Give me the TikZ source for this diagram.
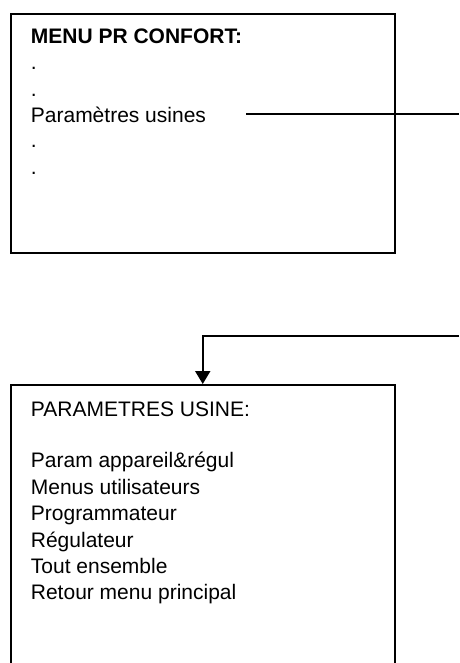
\documentclass[tikz,border=0pt]{standalone}
\usepackage{fontspec}
\setmainfont{Liberation Sans}
\usetikzlibrary{arrows.meta}
\begin{document}
\begin{tikzpicture}[x=1pt,y=-1pt,
  box/.style={draw,line width=2pt,minimum width=384.5pt,inner sep=0pt,anchor=north west},
  txt/.style={anchor=base west,inner sep=0pt,font=\fontsize{21}{26}\selectfont},
  btxt/.style={anchor=base west,inner sep=0pt,font=\fontsize{21}{26}\selectfont\bfseries},
  link/.style={line width=1.3pt},
  flow/.style={line width=2pt,-{Triangle[width=15pt,length=13pt]}}]
\useasboundingbox (0,0) rectangle (459,663);
\clip (0,0) rectangle (459,663);
\node[box,minimum height=239.5pt] (conf) at (9.5,12.7) {};
\node[btxt] (t0) at (30.7,44) {MENU PR CONFORT:};
\node[txt] (d1) at (30.7,70) {.};
\node[txt] (d2) at (30.7,97) {.};
\node[txt] (pu) at (30.7,123) {Paramètres usines};
\node[txt] (d3) at (30.7,148) {.};
\node[txt] (d4) at (30.7,175) {.};
\coordinate (e1) at (459,114);
\draw[link] ([xshift=40pt,yshift=9pt]pu.base east) -- (e1);
\node[box,minimum height=300pt] (usine) at (9.5,384) {};
\node[txt] (u0) at (30.7,416) {PARAMETRES USINE:};
\node[txt] (u1) at (30.7,467.5) {Param appareil\&régul};
\node[txt] (u2) at (30.7,494) {Menus utilisateurs};
\node[txt] (u3) at (30.7,520.5) {Programmateur};
\node[txt] (u4) at (30.7,547) {Régulateur};
\node[txt] (u5) at (30.7,573) {Tout ensemble};
\node[txt] (u6) at (30.7,599.5) {Retour menu principal};
\coordinate (e2) at (459,335.5);
\draw[flow] (e2) -| (usine.north);
\end{tikzpicture}
\end{document}
